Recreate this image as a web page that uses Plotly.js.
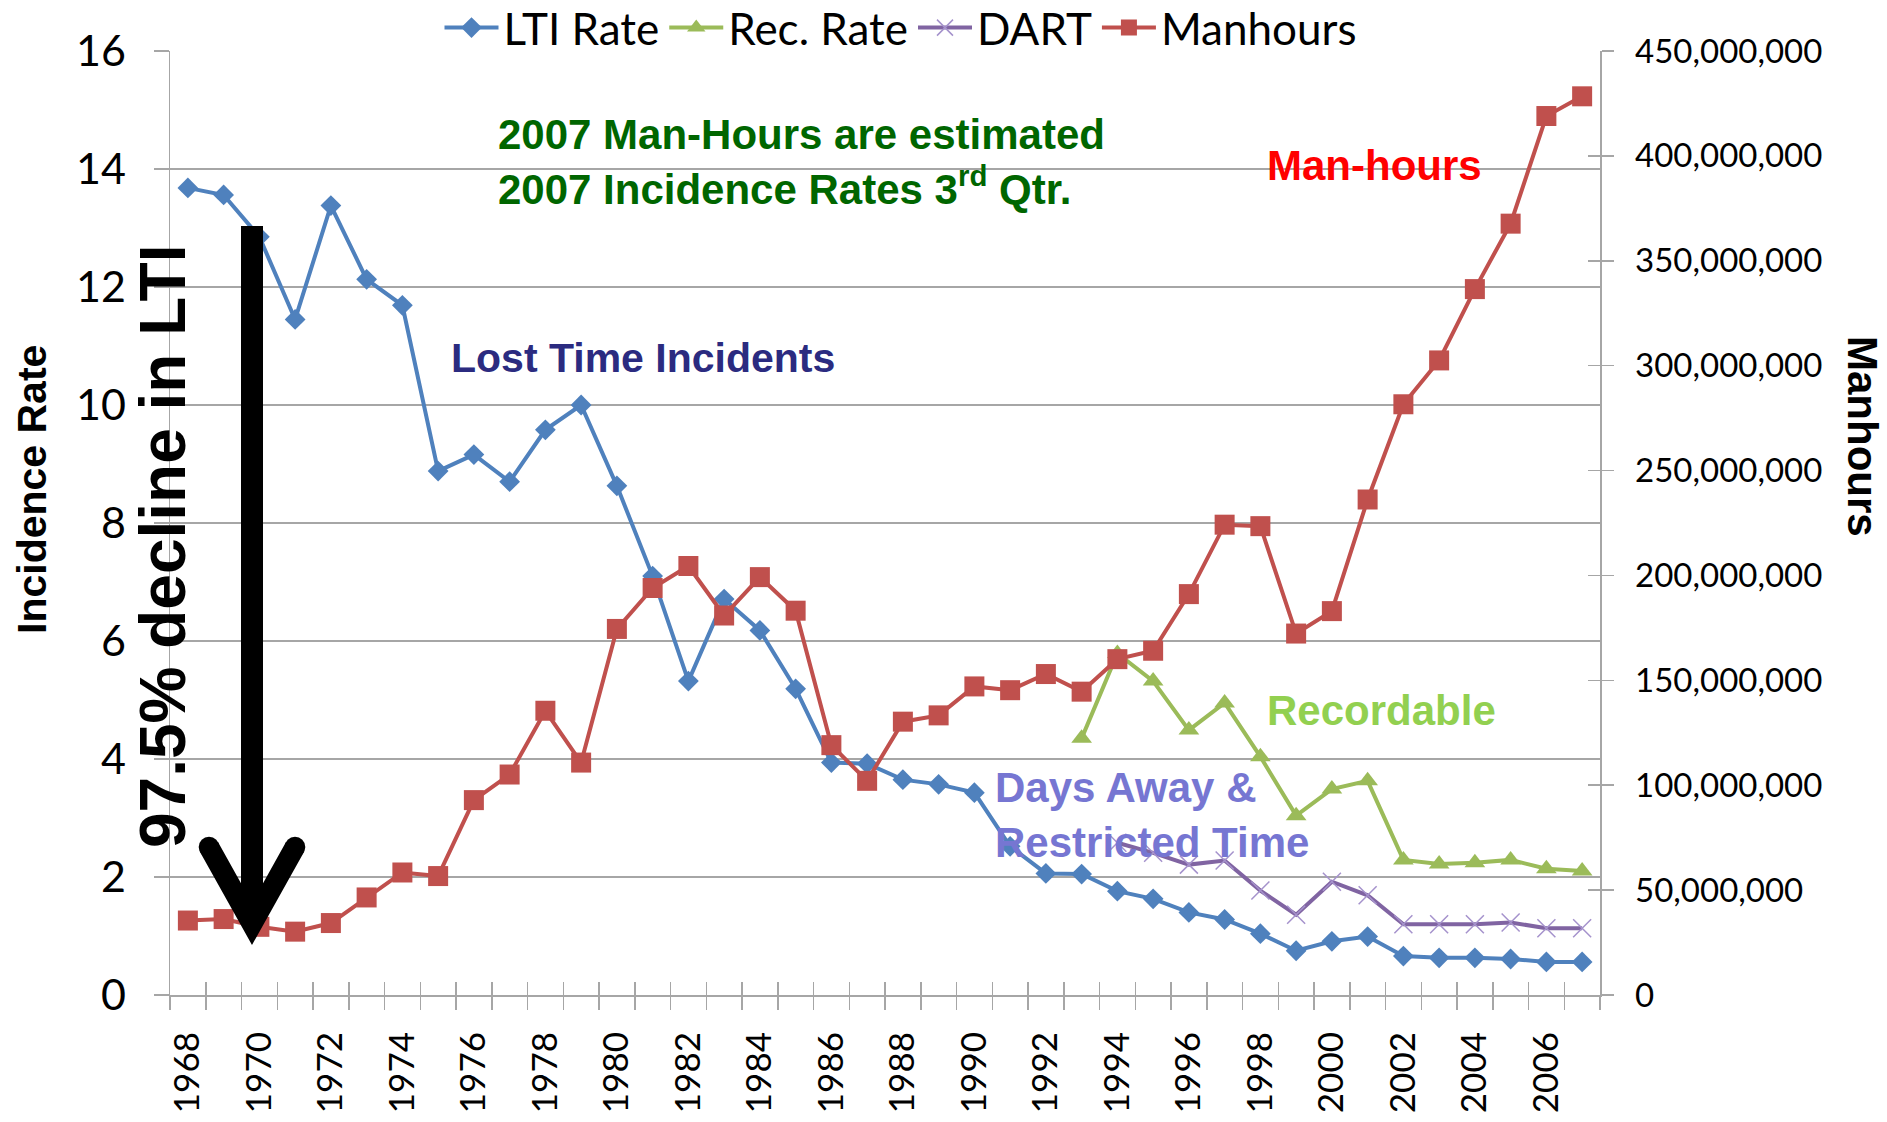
<!DOCTYPE html>
<html>
<head>
<meta charset="utf-8">
<script src="https://cdn.plot.ly/plotly-3.0.1.min.js"></script>
<style>
html, body { margin: 0; padding: 0; background: #ffffff; }
#chart { width: 1887px; height: 1122px; }
</style>
</head>
<body>
<div id="chart"></div>
<script>
// ---------------- data ----------------
const years = [1968, 1969, 1970, 1971, 1972, 1973, 1974, 1975, 1976, 1977,
               1978, 1979, 1980, 1981, 1982, 1983, 1984, 1985, 1986, 1987,
               1988, 1989, 1990, 1991, 1992, 1993, 1994, 1995, 1996, 1997,
               1998, 1999, 2000, 2001, 2002, 2003, 2004, 2005, 2006, 2007];

const ltiRate = [13.68, 13.56, 12.85, 11.45, 13.38, 12.13, 11.69, 8.88, 9.16, 8.70,
                 9.58, 10.00, 8.63, 7.10, 5.32, 6.71, 6.18, 5.19, 3.94, 3.92,
                 3.65, 3.57, 3.43, 2.52, 2.06, 2.05, 1.76, 1.63, 1.40, 1.28,
                 1.04, 0.75, 0.91, 0.99, 0.66, 0.63, 0.63, 0.61, 0.56, 0.56];

const recYears = [1993, 1994, 1995, 1996, 1997, 1998, 1999, 2000, 2001, 2002, 2003, 2004, 2005, 2006, 2007];
const recRate  = [4.35, 5.79, 5.32, 4.49, 4.95, 4.04, 3.04, 3.49, 3.63, 2.29, 2.22, 2.24, 2.29, 2.14, 2.10];

const dartYears = [1994, 1995, 1996, 1997, 1998, 1999, 2000, 2001, 2002, 2003, 2004, 2005, 2006, 2007];
const dartRate  = [2.58, 2.41, 2.21, 2.28, 1.77, 1.36, 1.92, 1.69, 1.20, 1.20, 1.20, 1.23, 1.13, 1.13];

const manhours = [35500000, 36200000, 32500000, 30200000, 34300000, 46500000, 58400000, 56700000, 92900000, 105100000,
                  135500000, 110800000, 174500000, 194000000, 204500000, 180900000, 199200000, 183200000, 119100000, 102100000,
                  130300000, 133300000, 147100000, 145300000, 153000000, 144600000, 160100000, 164100000, 191100000, 224200000,
                  223500000, 172300000, 183000000, 236200000, 281600000, 302500000, 336500000, 367700000, 419000000, 428400000];

const yearLabels = [1968, 1970, 1972, 1974, 1976, 1978, 1980, 1982, 1984, 1986,
                    1988, 1990, 1992, 1994, 1996, 1998, 2000, 2002, 2004, 2006];
const leftTicks  = [0, 2, 4, 6, 8, 10, 12, 14, 16];
const rightTicks = [0, 50000000, 100000000, 150000000, 200000000, 250000000, 300000000, 350000000, 400000000, 450000000];

const seriesNames = ['LTI Rate', 'Rec. Rate', 'DART', 'Manhours'];

// ---------------- layout geometry ----------------
const W = 1887, H = 1122;
const L = 170, R = 1600, T = 51, B = 995;
const pw = R - L, ph = B - T;
const px = x => (x - L) / pw;
const py = y => (B - y) / ph;

const xRange = [years[0] - 0.5, years[years.length - 1] + 0.5];
const boundaries = years.map(y => y - 0.5).concat([years[years.length - 1] + 0.5]);
const tickFont = 'Lato, "Open Sans", sans-serif';
const boldFont = '"Liberation Sans", Arial, sans-serif';
const grey = '#A6A6A6';

// ---------------- traces ----------------
const traces = [
  {
    name: seriesNames[0], x: years, y: ltiRate, xaxis: 'x', yaxis: 'y',
    type: 'scatter', mode: 'lines+markers',
    line: { color: '#4F81BD', width: 4 },
    marker: { symbol: 'diamond', size: 16, color: '#4F81BD' }
  },
  {
    name: seriesNames[1], x: recYears, y: recRate, xaxis: 'x', yaxis: 'y',
    type: 'scatter', mode: 'lines+markers',
    line: { color: '#9BBB59', width: 4 },
    marker: { symbol: 'triangle-up', size: 18, color: '#9BBB59' }
  },
  {
    name: seriesNames[2], x: dartYears, y: dartRate, xaxis: 'x', yaxis: 'y',
    type: 'scatter', mode: 'lines+markers',
    line: { color: '#8064A2', width: 4 },
    marker: { symbol: 'x-thin', size: 18, color: '#A592CC', line: { color: '#A592CC', width: 1.5 } }
  },
  {
    name: seriesNames[3], x: years, y: manhours, xaxis: 'x', yaxis: 'y2',
    type: 'scatter', mode: 'lines+markers',
    line: { color: '#C0504D', width: 4 },
    marker: { symbol: 'square', size: 20, color: '#C0504D' }
  },
  // empty helper traces so the extra tick axes are instantiated
  { x: [], y: [], xaxis: 'x2', yaxis: 'y', showlegend: false, hoverinfo: 'skip', type: 'scatter', mode: 'lines' },
  { x: [], y: [], xaxis: 'x3', yaxis: 'y', showlegend: false, hoverinfo: 'skip', type: 'scatter', mode: 'lines' },
  { x: [], y: [], xaxis: 'x', yaxis: 'y3', showlegend: false, hoverinfo: 'skip', type: 'scatter', mode: 'lines' }
];

// ---------------- arrow (decoration) ----------------
function pathOf(pts) {
  return 'M' + pts.map(p => px(p[0]).toFixed(5) + ',' + py(p[1]).toFixed(5)).join(' L') + ' Z';
}
function circleShape(cx, cy, r) {
  return { type: 'circle', xref: 'paper', yref: 'paper',
           x0: px(cx - r), x1: px(cx + r), y0: py(cy + r), y1: py(cy - r),
           fillcolor: '#000000', line: { width: 0 } };
}
const shapes = [
  { type: 'rect', xref: 'paper', yref: 'paper',
    x0: px(241), x1: px(263), y0: py(905), y1: py(226),
    fillcolor: '#000000', line: { width: 0 } },
  { type: 'path', xref: 'paper', yref: 'paper',
    path: pathOf([[252, 945], [200, 852], [218, 842], [252, 903], [286, 842], [304, 852]]),
    fillcolor: '#000000', line: { width: 0 } },
  circleShape(209, 847, 10.3),
  circleShape(295, 847, 10.3)
];

// ---------------- annotations ----------------
function note(text, x, y, color, size, extra) {
  return Object.assign({
    text: text, xref: 'paper', yref: 'paper', x: px(x), y: py(y),
    xanchor: 'left', yanchor: 'middle', align: 'left', showarrow: false,
    font: { family: boldFont, size: size, color: color, weight: 'bold' }
  }, extra || {});
}
const annotations = [
  note('2007 Man-Hours are estimated<br>2007 Incidence Rates 3<sup>rd</sup> Qtr.', 496, 162, '#006600', 42),
  note('Man-hours', 1265, 166, '#FF0000', 42),
  note('Lost Time Incidents', 449, 358, '#2B2B80', 41),
  note('Recordable', 1265, 710, '#92D050', 42),
  note('Days Away &amp;<br>Restricted Time', 993, 815, '#7676D2', 42),
  note('97.5% decline in LTI', 163, 547, '#000000', 64, { xanchor: 'center', textangle: -90 }),
  // axis titles
  note('Incidence Rate', 32, 490, '#000000', 41, { xanchor: 'center', textangle: -90 }),
  note('Manhours', 1863, 437, '#000000', 42, { xanchor: 'center', textangle: 90 })
];

// ---------------- layout ----------------
const layout = {
  width: W, height: H,
  margin: { l: L, r: W - R, t: T, b: H - B, pad: 0, autoexpand: false },
  paper_bgcolor: '#ffffff', plot_bgcolor: '#ffffff',
  font: { family: tickFont, color: '#000000' },
  showlegend: true,
  legend: {
    orientation: 'h', x: px(901), xanchor: 'center', y: py(28), yanchor: 'middle',
    font: { family: tickFont, size: 44, color: '#000000' },
    itemwidth: 54,
    bgcolor: 'rgba(0,0,0,0)', traceorder: 'normal', itemclick: false
  },
  xaxis: {
    range: xRange, tickmode: 'array', tickvals: boundaries, showticklabels: false,
    ticks: 'outside', ticklen: 13, tickwidth: 1.5, tickcolor: grey,
    showline: true, linecolor: grey, linewidth: 1.5,
    showgrid: false, zeroline: false, automargin: false
  },
  xaxis2: {
    overlaying: 'x', anchor: 'y', side: 'bottom', range: xRange,
    tickmode: 'array', tickvals: boundaries, showticklabels: false,
    ticks: 'inside', ticklen: 13, tickwidth: 1.5, tickcolor: grey,
    showline: false, showgrid: false, zeroline: false, automargin: false
  },
  xaxis3: {
    overlaying: 'x', anchor: 'y', side: 'bottom', range: xRange,
    tickmode: 'array', tickvals: yearLabels, ticktext: yearLabels.map(String),
    ticks: '', tickangle: -90, ticklabelstandoff: 29,
    tickfont: { family: tickFont, size: 35, color: '#000000' },
    showline: false, showgrid: false, zeroline: false, automargin: false
  },
  yaxis: {
    range: [leftTicks[0], leftTicks[leftTicks.length - 1]],
    tickmode: 'array', tickvals: leftTicks,
    ticks: 'outside', ticklen: 15, tickwidth: 1.5, tickcolor: grey,
    ticklabelstandoff: 19,
    tickfont: { family: tickFont, size: 43, color: '#000000' },
    showline: true, linecolor: grey, linewidth: 1.5,
    showgrid: true, gridcolor: grey, gridwidth: 1.5, zeroline: false, automargin: false
  },
  yaxis2: {
    overlaying: 'y', side: 'right', anchor: 'x',
    range: [rightTicks[0], rightTicks[rightTicks.length - 1]],
    tickmode: 'array', tickvals: rightTicks, tickformat: ',d',
    ticks: 'outside', ticklen: 12, tickwidth: 1.5, tickcolor: grey,
    ticklabelstandoff: 15,
    tickfont: { family: tickFont, size: 33, color: '#000000' },
    showline: true, linecolor: grey, linewidth: 1.5,
    showgrid: false, zeroline: false, automargin: false
  },
  yaxis3: {
    overlaying: 'y', side: 'right', anchor: 'x',
    range: [rightTicks[0], rightTicks[rightTicks.length - 1]],
    tickmode: 'array', tickvals: rightTicks, showticklabels: false,
    ticks: 'inside', ticklen: 12, tickwidth: 1.5, tickcolor: grey,
    showline: false, showgrid: false, zeroline: false, automargin: false
  },
  shapes: shapes,
  annotations: annotations
};

Plotly.newPlot('chart', traces, layout, { displayModeBar: false, staticPlot: true });
</script>
</body>
</html>
